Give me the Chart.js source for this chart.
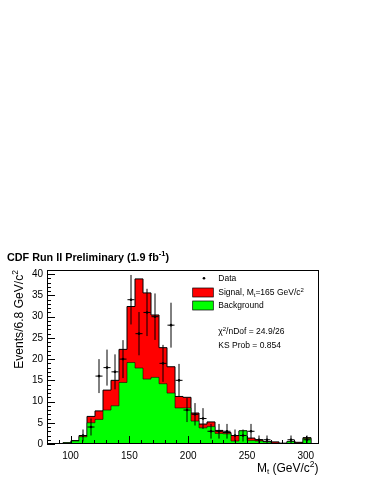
<!DOCTYPE html>
<html>
<head>
<meta charset="utf-8">
<script src="https://cdn.jsdelivr.net/npm/chart.js@4.4.0/dist/chart.umd.min.js"></script>
<style>
  body { margin: 0; background: #fff; }
  canvas { display: block; }
</style>
</head>
<body>
<canvas id="c" width="371" height="480"></canvas>
<script>
const binStart = 80
const binWidth = 6.8
// background template (green), bottom of the stack
const background = [0, 0, 0.3, 0.7, 1.7, 5.0, 5.8, 8.0, 9.0, 14.5, 19.2, 17.9, 15.3, 15.7, 14.2, 12.0, 8.5, 8.5,
    5.4, 3.8, 4.1, 2.5, 2.4, 0.7, 3.1, 0.8, 0.7, 0.5, 0.2, 0.1, 0.6, 0.2, 1.3, 0]
// signal Mt=165 (red), stacked on background
const signal = [0, 0, 0, 0.1, 0.3, 1.5, 2.0, 4.7, 6.0, 7.8, 13.2, 21.0, 20.3, 14.7, 8.5, 6.2, 2.7, 2.5,
    1.9, 0.9, 1.1, 0.7, 0.3, 1.3, 0, 0.6, 0.3, 0.05, 0.3, 0.1, 0, 0.2, 0.2, 0]
// observed events per bin
const dataCounts = [0, 0, 0, 0, 2, 4, 16, 18, 17, 20, 34, 26, 31, 30, 19, 28, 15, 8,
    7, 6, 3, 3, 3, 2, 2, 3, 1, 1, 0, 0, 1, 0, 1, 0]
const xTicks = [100, 150, 200, 250, 300]
const yTicks = [0, 5, 10, 15, 20, 25, 30, 35, 40]

const F = '"Liberation Sans", Arial, Helvetica, sans-serif'
Chart.defaults.font.family = F

const xMax = binStart + background.length * binWidth
const total = background.map((b, i) => b + signal[i])

function steps(vals) {
    const pts = vals.map((v, i) => ({ x: binStart + i * binWidth, y: v }))
    pts.push({ x: xMax, y: 0 })
    return pts
}

const dataPoints = []
dataCounts.forEach((n, i) => {
    if (n > 0) dataPoints.push({ x: binStart + (i + 0.5) * binWidth, y: n })
})

function richText(ctx, x, y, parts, align) {
    let w = 0
    parts.forEach(p => {
        ctx.font = p.font
        p.w = ctx.measureText(p.t).width
        w += p.w
    })
    let cx = align === 'right' ? x - w : x
    parts.forEach(p => {
        ctx.font = p.font
        ctx.fillText(p.t, cx, y + (p.dy || 0))
        cx += p.w
    })
}

const errorBars = {
    id: 'errorBars',
    afterDatasetsDraw(chart) {
        const { ctx, scales: { x, y } } = chart
        ctx.save()
        ctx.strokeStyle = '#000'
        ctx.lineWidth = 1
        dataCounts.forEach((n, i) => {
            if (!n) return
            const xc = binStart + (i + 0.5) * binWidth
            const e = Math.sqrt(n)
            const px = x.getPixelForValue(xc)
            const py = y.getPixelForValue(n)
            ctx.beginPath()
            ctx.moveTo(px, y.getPixelForValue(n + e))
            ctx.lineTo(px, y.getPixelForValue(Math.max(0, n - e)))
            ctx.moveTo(x.getPixelForValue(xc - 3), py)
            ctx.lineTo(x.getPixelForValue(xc + 3), py)
            ctx.stroke()
        })
        ctx.restore()
    }
}

const frameTicks = {
    id: 'frameTicks',
    afterDraw(chart) {
        const { ctx, chartArea: a, scales: { x, y } } = chart
        ctx.save()
        ctx.strokeStyle = '#000'
        ctx.lineWidth = 1
        ctx.strokeRect(a.left + 0.5, a.top + 0.5, a.right - a.left - 1, a.bottom - a.top - 1)
        ctx.beginPath()
        for (let v = 0; v <= 41; v++) {
            const py = Math.round(y.getPixelForValue(v)) + 0.5
            ctx.moveTo(a.left, py)
            ctx.lineTo(a.left + (v % 5 === 0 ? 8 : 4), py)
        }
        for (let v = 80; v <= 310; v += 10) {
            const px = Math.round(x.getPixelForValue(v)) + 0.5
            ctx.moveTo(px, a.bottom)
            ctx.lineTo(px, a.bottom - (v % 50 === 0 ? 8 : 4))
        }
        ctx.stroke()
        ctx.restore()
    }
}

const texts = {
    id: 'texts',
    afterDraw(chart) {
        const ctx = chart.ctx
        ctx.save()
        ctx.fillStyle = '#000'
        ctx.textBaseline = 'alphabetic'
        // title
        richText(ctx, 7, 260.5, [
            { t: 'CDF Run II Preliminary (1.9 fb', font: `bold 10.8px ${F}` },
            { t: '-1', font: `bold 7.5px ${F}`, dy: -4.5 },
            { t: ')', font: `bold 10.8px ${F}` }
        ])
        // y title
        ctx.save()
        ctx.translate(22.5, 270)
        ctx.rotate(-Math.PI / 2)
        richText(ctx, 0, 0, [
            { t: 'Events/6.8 GeV/c', font: `12.1px ${F}` },
            { t: '2', font: `8.5px ${F}`, dy: -5 }
        ], 'right')
        ctx.restore()
        // x title
        richText(ctx, 318.5, 471.5, [
            { t: 'M', font: `12px ${F}` },
            { t: 't', font: `8px ${F}`, dy: 2.5 },
            { t: ' (GeV/c', font: `12px ${F}` },
            { t: '2', font: `8.5px ${F}`, dy: -5 },
            { t: ')', font: `12px ${F}` }
        ], 'right')
        // legend
        ctx.beginPath()
        ctx.arc(204, 278.3, 1.3, 0, Math.PI * 2)
        ctx.fill()
        const lf = `8.5px ${F}`
        richText(ctx, 218.3, 281, [{ t: 'Data', font: lf }])
        ctx.lineWidth = 0.7
        ctx.strokeStyle = '#000'
        ctx.fillStyle = '#ff0000'
        ctx.fillRect(192.7, 288, 20.6, 9)
        ctx.strokeRect(192.7, 288, 20.6, 9)
        ctx.fillStyle = '#00ff00'
        ctx.fillRect(192.7, 301, 20.6, 9)
        ctx.strokeRect(192.7, 301, 20.6, 9)
        ctx.fillStyle = '#000'
        richText(ctx, 218.3, 295, [
            { t: 'Signal, M', font: lf },
            { t: 't', font: `6px ${F}`, dy: 2 },
            { t: '=165 GeV/c', font: lf },
            { t: '2', font: `6px ${F}`, dy: -3.5 }
        ])
        richText(ctx, 218.3, 308, [{ t: 'Background', font: lf }])
        richText(ctx, 218.3, 334, [
            { t: 'χ', font: lf },
            { t: '2', font: `6px ${F}`, dy: -3.5 },
            { t: '/nDof = 24.9/26', font: lf }
        ])
        richText(ctx, 218.3, 347.5, [{ t: 'KS Prob = 0.854', font: lf }])
        ctx.restore()
    }
}

new Chart(document.getElementById('c'), {
    type: 'line',
    data: {
        datasets: [{
            label: 'Data',
            data: dataPoints,
            showLine: false,
            pointRadius: 1.3,
            pointBackgroundColor: '#000',
            pointBorderWidth: 0,
            order: 0
        }, {
            label: 'Background',
            data: steps(background),
            stepped: true,
            fill: 'origin',
            backgroundColor: '#00ff00',
            borderColor: 'rgba(0,0,0,0.55)',
            borderWidth: 1,
            pointRadius: 0,
            order: 1
        }, {
            label: 'Signal',
            data: steps(total),
            stepped: true,
            fill: 'origin',
            backgroundColor: '#ff0000',
            borderColor: '#000',
            borderWidth: 1,
            pointRadius: 0,
            order: 2
        }]
    },
    options: {
        responsive: false,
        animation: false,
        devicePixelRatio: 1,
        layout: { padding: { top: 270, right: 52, left: 0, bottom: 0 } },
        plugins: { legend: { display: false }, tooltip: { enabled: false } },
        scales: {
            x: {
                type: 'linear',
                min: binStart,
                max: xMax,
                grid: { display: false, drawTicks: false },
                border: { display: false },
                ticks: { color: '#000', font: { size: 10 }, padding: 6, maxRotation: 0 },
                afterBuildTicks: s => { s.ticks = xTicks.map(v => ({ value: v })) },
                afterFit: s => { s.height = 36 }
            },
            y: {
                min: 0,
                max: 41,
                grid: { display: false, drawTicks: false },
                border: { display: false },
                ticks: { color: '#000', font: { size: 10 }, padding: 4 },
                afterBuildTicks: s => { s.ticks = yTicks.map(v => ({ value: v })) },
                afterFit: s => { s.width = 47 }
            }
        }
    },
    plugins: [errorBars, frameTicks, texts]
})
</script>
</body>
</html>
